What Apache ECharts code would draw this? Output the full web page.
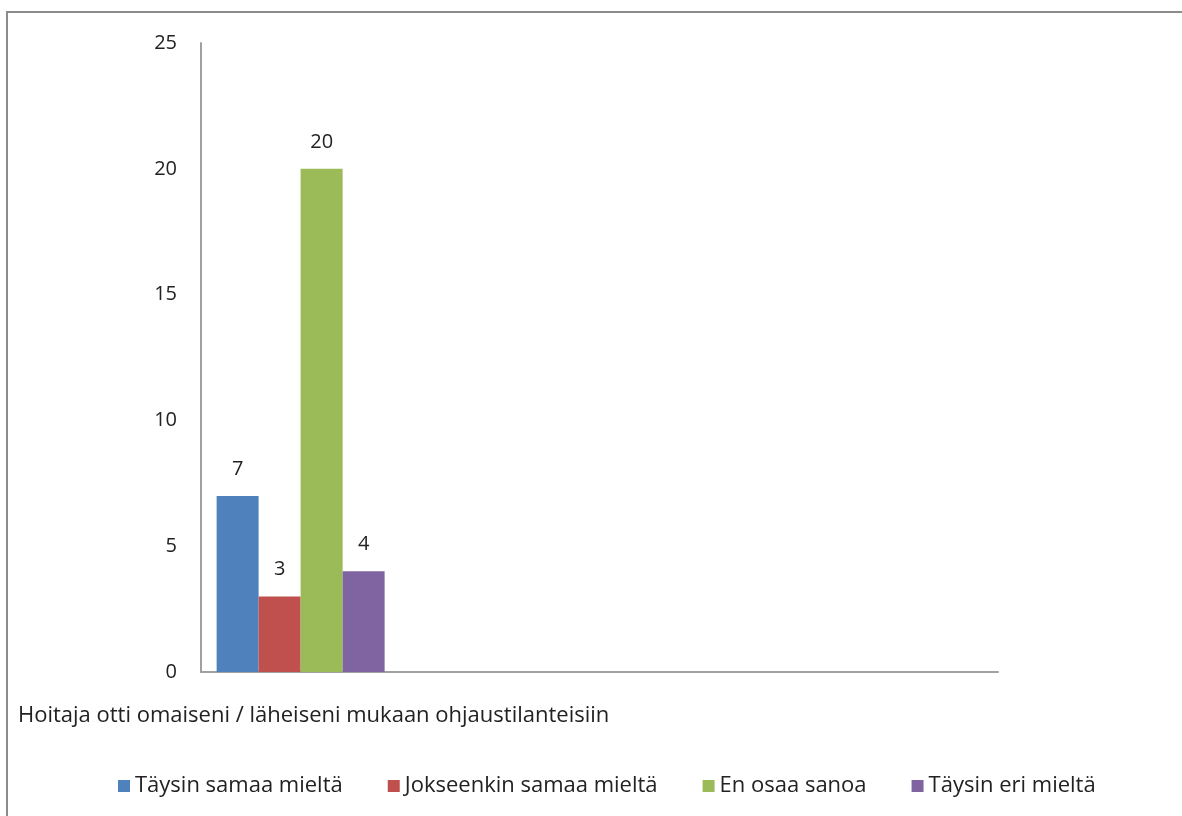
<!DOCTYPE html>
<html>
<head>
<meta charset="utf-8">
<script src="https://cdn.jsdelivr.net/npm/echarts@6/dist/echarts.min.js"></script>
<style>
html, body { margin: 0; padding: 0; background: #fff; }
#chart { width: 1182px; height: 816px; }
</style>
</head>
<body>
<div id="chart"></div>
<script>
// data
var categories = ['Hoitaja otti omaiseni / läheiseni mukaan ohjaustilanteisiin', '', '', ''];
var seriesNames = ['Täysin samaa mieltä', 'Jokseenkin samaa mieltä', 'En osaa sanoa', 'Täysin eri mieltä'];
var seriesValues = [
	[7, null, null, null],
	[3, null, null, null],
	[20, null, null, null],
	[4, null, null, null]
];
var colors = ['#4F81BD', '#C0504D', '#9BBB59', '#8064A2'];

var chart = echarts.init(document.getElementById('chart'));
var font = 'Open Sans';

var series = seriesNames.map(function (name, i) {
	return {
		name : name,
		type : 'bar',
		data : seriesValues[i],
		barWidth : 42,
		barGap : '0%',
		itemStyle : { color : colors[i] },
		label : {
			show : true,
			position : 'top',
			distance : 17,
			color : '#222',
			fontSize : 20,
			fontFamily : font
		}
	};
});

option = {
	backgroundColor : '#fff',
	animation : false,
	graphic : [ {
		type : 'rect',
		shape : { x : 7, y : 12, width : 1300, height : 900 },
		style : { fill : 'none', stroke : '#8c8c8c', lineWidth : 2 }
	} ],
	grid : {
		left : 201,
		right : 184,
		top : 43,
		bottom : 144
	},
	legend : {
		data : seriesNames,
		left : 113,
		top : 770,
		itemWidth : 12,
		itemHeight : 12,
		itemGap : 45,
		icon : 'rect',
		textStyle : {
			fontSize : 22,
			fontFamily : font,
			color : '#222'
		}
	},
	xAxis : {
		type : 'category',
		data : categories,
		axisLine : { lineStyle : { color : '#a0a0a0', width : 2 } },
		axisTick : { show : false },
		axisLabel : {
			interval : 0,
			margin : 33,
			fontSize : 22,
			fontFamily : font,
			color : '#222',
			padding : [0, 0, 0, 26]
		}
	},
	yAxis : {
		type : 'value',
		min : 0,
		max : 25,
		interval : 5,
		splitLine : { show : false },
		axisLine : { show : true, lineStyle : { color : '#a0a0a0', width : 2 } },
		axisTick : { show : false },
		axisLabel : {
			margin : 24,
			fontSize : 20,
			fontFamily : font,
			color : '#222'
		}
	},
	series : series
};

chart.setOption(option);
</script>
</body>
</html>
